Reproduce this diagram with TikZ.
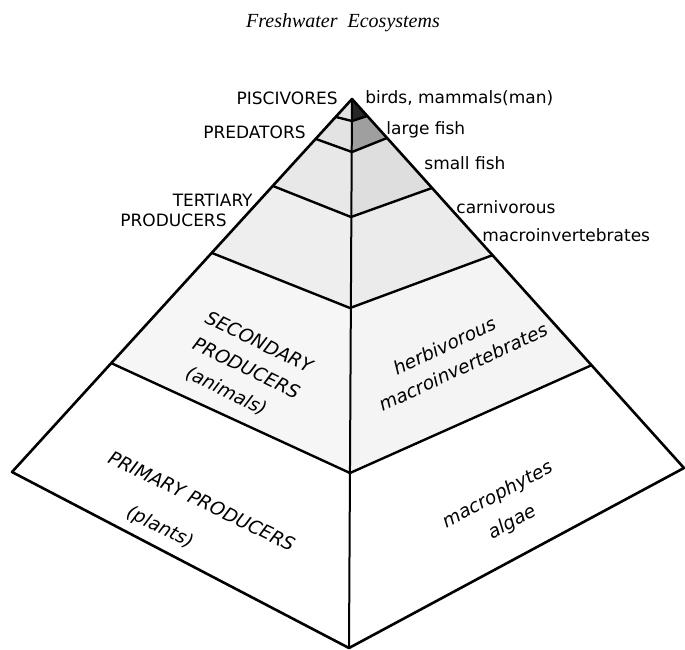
\documentclass[tikz,border=0pt]{standalone}
\usepackage{fontspec}
\setmainfont{DejaVu Sans}
\newfontfamily\titlefont{Liberation Serif}
\begin{document}
\begin{tikzpicture}[x=0.5pt,y=-0.5pt,line join=round,
	lbl/.style={font=\fontsize{8.5}{10}\selectfont,inner sep=0pt},
	slant/.style={font=\fontsize{9.3}{10}\selectfont\itshape,inner sep=0pt,align=center}]
				\useasboundingbox (0,0) rectangle (685,649);
				\coordinate (A) at (352,99);
				\coordinate (l1) at (336,117); \coordinate (c1) at (352,121); \coordinate (r1) at (367,116);
				\coordinate (l2) at (316,139); \coordinate (c2) at (352,152); \coordinate (r2) at (387,138);
				\coordinate (l3) at (273,186); \coordinate (c3) at (351,217); \coordinate (r3) at (432,188);
				\coordinate (l4) at (212,253); \coordinate (c4) at (350,308); \coordinate (r4) at (493,255);
				\coordinate (l5) at (111,363); \coordinate (c5) at (350,473); \coordinate (r5) at (592,365);
				\coordinate (l6) at (12,472); \coordinate (c6) at (349,648); \coordinate (r6) at (684,468);
				\fill[gray!22] (A) -- (l1) -- (c1) -- cycle;
				\fill[black!85] (A) -- (c1) -- (r1) -- cycle;
				\foreach \i/\j/\sl/\sr in {1/2/22/75,2/3/18/26,3/4/13/16,4/5/7/9}{
					\fill[gray!\sl] (l\i) -- (c\i) -- (c\j) -- (l\j) -- cycle;
					\fill[gray!\sr] (c\i) -- (r\i) -- (r\j) -- (c\j) -- cycle;
				}
				\draw[line width=1.3pt] (A) -- (l6) -- (c6) -- (r6) -- cycle;
				\draw[line width=1pt] (A) -- (c6);
				\foreach \i in {1,...,5}
					\draw[line width=1.2pt] (l\i) -- (c\i) -- (r\i);
				\node[font=\titlefont\itshape\fontsize{10}{12}\selectfont] (title) at (343,23) {Freshwater\ \ Ecosystems};
				\node[lbl,anchor=east] (pisc) at (338,98) {PISCIVORES};
				\node[lbl,anchor=west] (birds) at (365,98) {birds, mammals(man)};
				\node[lbl,anchor=east] (pred) at (306,132) {PREDATORS};
				\node[lbl,anchor=west] (large) at (386,130) {large fish};
				\node[lbl,anchor=west] (small) at (424,163) {small fish};
				\node[lbl,anchor=east] (tert) at (253,200) {TERTIARY};
				\node[lbl,anchor=east] (tprod) at (227,220) {PRODUCERS};
				\node[lbl,anchor=west] (carn) at (456,207) {carnivorous};
				\node[lbl,anchor=west] (cmacro) at (482,235) {macroinvertebrates};
				\node[slant,rotate=-26,font=\fontsize{9.3}{14.5}\selectfont\itshape] (sec) at (246,369)
					{SECONDARY\\PRODUCERS\\(animals)\hspace*{8pt}};
				\node[slant,rotate=25,font=\fontsize{9.3}{13.5}\selectfont\itshape] (herb) at (450,358)
					{herbivorous\\\hspace*{8pt}macroinvertebrates};
				\node[slant,rotate=-26,font=\fontsize{9.3}{20.5}\selectfont\itshape] (prim) at (192,521)
					{PRIMARY PRODUCERS\\(plants)\hspace*{26pt}};
				\node[slant,rotate=28,font=\fontsize{9.3}{15.5}\selectfont\itshape] (mac) at (505,509)
					{macrophytes\\algae};
		\end{tikzpicture}
\end{document}
